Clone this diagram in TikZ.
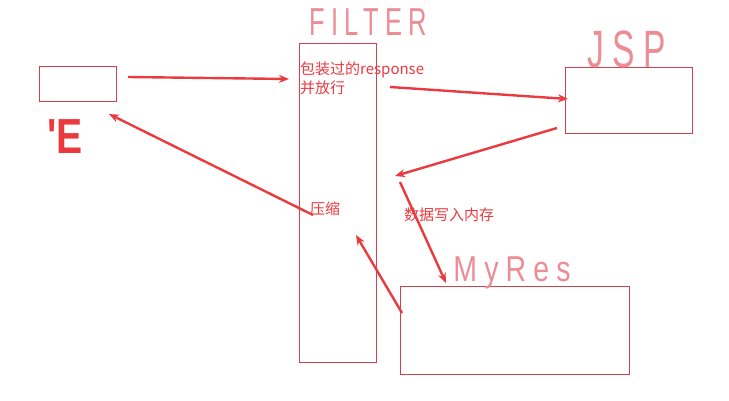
\documentclass[tikz,border=0pt]{standalone}
\usepackage{fontspec}
\usepackage{tikz}
\usetikzlibrary{positioning,arrows.meta}
\usepackage{xcolor}
\newfontfamily\cjk{Noto Sans CJK SC}
\newfontfamily\handfont[LetterSpace=25]{Liberation Sans}
\definecolor{penred}{HTML}{EB3A3E}
\definecolor{boxred}{HTML}{D6404C}
\definecolor{handpink}{HTML}{EC8C94}

\begin{document}
\begin{tikzpicture}[x=1pt,y=-1pt,>={Stealth[length=10pt,width=8pt]},
  box/.style={draw=boxred,line width=0.8pt,inner sep=0,anchor=north west},
  hand/.style={text=handpink,inner sep=0,font=\handfont\fontsize{30}{30}\selectfont},
  note/.style={text=penred,inner sep=0,anchor=north west,align=left,font=\cjk\fontsize{15}{19}\selectfont},
  flow/.style={->,draw=penred,line width=2.4pt}]
\useasboundingbox (0,0) rectangle (729,401);
% boxes
\node[box,minimum width=77pt,minimum height=35pt] (ie) at (39,66) {};
\node[box,minimum width=77pt,minimum height=319pt] (filter) at (299,43) {};
\node[box,minimum width=127pt,minimum height=66pt] (jsp) at (565,67) {};
\node[box,minimum width=229pt,minimum height=88pt] (myres) at (400,286) {};
% hand written names
\node[hand] (filtername) at (368,22) {\scalebox{0.85}[1.3]{FILTER}};
\node[hand] (jspname) at (627,49) {\scalebox{1.12}[1.75]{JSP}};
\node[hand] (myresname) at (512,273) {\scalebox{0.95}[1.2]{MyRes}};
\node[text=penred,inner sep=0,font=\fontspec{Liberation Sans Bold}\fontsize{34}{34}\selectfont] (iename) at (65,137) {\scalebox{1.15}[1.45]{\textquotesingle E}};
% texts
\node[note] (wrap) at (300,62) {包装过的response\\并放行};
\node[note] (zip) at (310,202) {压缩};
\node[note] (save) at (404,208) {数据写入内存};
% arrow ends
\coordinate (a1) at (128,77);
\coordinate (a2) at (289,79);
\coordinate (b1) at (390,87);
\coordinate (b2) at (568,99);
\coordinate (c1) at (557,128);
\coordinate (c2) at (395,176);
\coordinate (d1) at (400,182);
\coordinate (d2) at (446,283);
\coordinate (e1) at (402,313);
\coordinate (e2) at (356,235);
\coordinate (f1) at (313,215);
\coordinate (f2) at (109,114);
\draw[flow] (a1) -- (a2);
\draw[flow] (b1) -- (b2);
\draw[flow] (c1) -- (c2);
\draw[flow] (d1) -- (d2);
\draw[flow] (e1) -- (e2);
\draw[flow] (f1) -- (f2);
\end{tikzpicture}
\end{document}
